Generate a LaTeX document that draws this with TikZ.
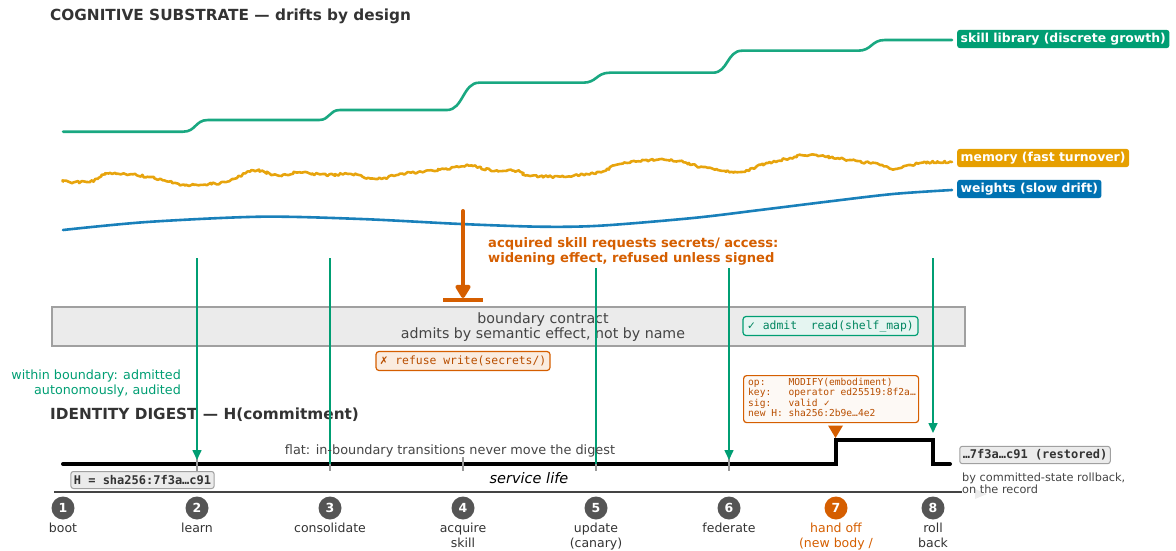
\documentclass[tikz,border=0pt]{standalone}
\usepackage{fontspec}
\setmainfont{DejaVu Sans}
\setmonofont{DejaVu Sans Mono}
\newfontfamily\symf{DejaVu Sans}
\usetikzlibrary{arrows.meta,decorations.pathmorphing}
\definecolor{cgreen}{HTML}{009E73}
\definecolor{cgreentxt}{HTML}{00855F}
\definecolor{corange}{HTML}{D55E00}
\definecolor{corangetxt}{HTML}{B84E00}
\definecolor{cyellow}{HTML}{E69F00}
\definecolor{cblue}{HTML}{0072B2}
\definecolor{txt}{HTML}{333333}
\definecolor{gtxt}{HTML}{444444}
\definecolor{boxgray}{HTML}{EBEBEB}
\definecolor{boxedge}{HTML}{A0A0A0}
\definecolor{evgray}{HTML}{555555}
\newcommand{\fsz}[1]{\fontsize{#1}{#1}\selectfont}
\tikzset{
  ttl/.style={font=\bfseries\fsz{15.3}, text=txt, inner sep=0, anchor=base west},
  tag/.style={font=\bfseries\fsz{12.4}, text=white, rounded corners=2.5pt, inner xsep=3.5pt, inner ysep=3pt, anchor=west},
  curve/.style={line width=2.6pt, line cap=round, line join=round},
  gline/.style={cgreen, line width=1.6pt},
  garrow/.style={gline, -{Triangle[length=10pt,width=9pt]}},
  tickmark/.style={draw=gray!80, line width=1.6pt},
  evc/.style={circle, fill=evgray, text=white, font=\bfseries\fsz{12.5}, minimum size=23pt, inner sep=0},
  evl/.style={font=\fsz{12.5}, text=txt, inner sep=0, anchor=base},
  codebox/.style={font=\ttfamily\fsz{11.4}, rounded corners=3pt, line width=1.2pt, inner xsep=3pt, minimum height=19pt},
  hashbox/.style={font=\ttfamily\bfseries\fsz{12}, draw=boxedge, fill=boxgray, rounded corners=2.5pt, line width=1pt, text=txt, inner xsep=3pt, minimum height=17pt},
  note/.style={inner sep=0, anchor=base},
}
\begin{document}
\begin{tikzpicture}[x=1pt,y=-1pt]
\useasboundingbox (0,0) rectangle (1176,551);

% titles
\node[ttl] (t1) at (50,21) {COGNITIVE SUBSTRATE — drifts by design};
\node[ttl] (t2) at (50,419) {IDENTITY DIGEST — H(commitment)};

% skill library
\draw[curve, cgreen, opacity=.9] (63,131.7) -- (183,131.7)
  .. controls (196,131.7) and (195,120) .. (208,120) -- (319,120)
  .. controls (330,120) and (329,110) .. (340,110) -- (447,110)
  .. controls (463,110) and (463,82.7) .. (479,82.7) -- (583,82.7)
  .. controls (597,82.7) and (596,72.7) .. (610,72.7) -- (713,72.7)
  .. controls (728,72.7) and (727,50.7) .. (742,50.7) -- (858,50.7)
  .. controls (872,50.7) and (871,40) .. (885,40) -- (952,40);

% memory
\pgfmathsetseed{12}
\draw[curve, cyellow, opacity=.95, decorate, decoration={random steps, segment length=2pt, amplitude=1.2pt}]
  plot[smooth, tension=0.5] coordinates {(63,181.7) (90,181.7) (110,173) (147,176.7) (179,184) (194,185) (226,182) (254,170.7) (279,175.7) (297,172.7) (326,175) (351,174) (376,179) (397,175) (411,172.7) (444,169) (469,165.7) (490,170) (519,171) (526,175) (554,176.7) (580,175) (600,172) (620,164) (650,160) (680,161) (700,167) (740,172) (760,165) (790,158) (810,155) (850,160) (880,165) (895,169) (920,163) (952,162)};

% weights
\draw[curve, cblue, opacity=.9] plot[smooth] coordinates {(63,230) (147,222) (261,216.7) (361,219) (461,224) (540,226.7) (600,225.7) (693,218) (760,210) (827,201.7) (893,194) (952,190)};

% curve tags
\node[tag, fill=cgreen] (lsk) at (957,39) {skill library (discrete growth)};
\node[tag, fill=cyellow] (lmem) at (957,158) {memory (fast turnover)};
\node[tag, fill=cblue] (lw) at (957,189) {weights (slow drift)};

% refused request arrow
\coordinate (atop) at (463,211);
\coordinate (abot) at (463,298);
\coordinate (barl) at (443,300);
\coordinate (barr) at (483,300);
\draw[corange, line width=4pt] (barl) -- (barr);
\draw[corange, line width=4pt, line cap=round, -{Triangle[length=15pt,width=17pt,round]}] (atop) -- (abot);
\node[note, anchor=base west, font=\bfseries\fsz{13.1}, text=corange] (ann1) at (488,247) {acquired skill requests secrets/ access:};
\node[note, anchor=base west, font=\bfseries\fsz{13.1}, text=corange] (ann2) at (488,262) {widening effect, refused unless signed};

% boundary contract
\node[draw=boxedge, fill=boxgray, line width=1.5pt, minimum width=913pt, minimum height=39pt, anchor=north west, inner sep=0] (bc) at (51,306) {};
\node[note, font=\fsz{14.2}, text=gtxt] (bc1) at (543,323) {boundary contract};
\node[note, font=\fsz{14.2}, text=gtxt] (bc2) at (543,338) {admits by semantic effect, not by name};

% admit / refuse boxes
\node[codebox, draw=cgreen, fill=cgreen!10, text=cgreentxt, minimum width=175pt] (admit) at (830.5,326) {{\symf\fsz{10.5}✓}~admit~~read(shelf\_map)};
\node[codebox, draw=corange, fill=corange!12, text=corangetxt, minimum width=174pt] (refuse) at (463,361) {{\symf\fsz{10.5}✗}~refuse~write(secrets/)};

% within boundary note
\node[note, anchor=base east, font=\fsz{12.7}, text=cgreen] (wb1) at (181,379) {within boundary: admitted};
\node[note, anchor=base east, font=\fsz{12.7}, text=cgreen] (wb2) at (181,394) {autonomously, audited};

% signature box
\node[draw=corange, fill=corange!4, line width=1.2pt, rounded corners=3pt, anchor=north west, minimum width=175pt, minimum height=47pt, inner sep=0] (sig) at (743,375) {};
\node[note, anchor=base west, font=\ttfamily\fsz{9.6}, text=corangetxt] (s1) at (748,385.5) {op:~~~~MODIFY(embodiment)};
\node[note, anchor=base west, font=\ttfamily\fsz{9.6}, text=corangetxt] (s2) at (748,395.8) {key:~~~operator ed25519:8f2a…};
\node[note, anchor=base west, font=\ttfamily\fsz{9.6}, text=corangetxt] (s3) at (748,406) {sig:~~~valid {\symf\fsz{8.5}✓}};
\node[note, anchor=base west, font=\ttfamily\fsz{9.6}, text=corangetxt] (s4) at (748,416.3) {new H: sha256:2b9e…4e2};

% digest line
\coordinate (d0) at (63,464);
\coordinate (d1) at (835.5,464);
\coordinate (d2) at (835.5,440);
\coordinate (d3) at (932.5,440);
\coordinate (d4) at (932.5,464);
\coordinate (d5) at (950,464);
\draw[line width=4pt, line cap=round, line join=miter] (d0) -- (d1) -- (d2) -- (d3) -- (d4) -- (d5);
\fill[corange] (828,425.5) -- (843,425.5) -- (835.5,438) -- cycle;

% ticks
\foreach \x in {197,330,463,596,729} {
  \draw[tickmark] (\x,457) -- (\x,471);
}

% green event arrows
\coordinate (g2a) at (197,258); \coordinate (g2b) at (197,460);
\coordinate (g3a) at (330,258); \coordinate (g3b) at (330,464);
\coordinate (g5a) at (596,268); \coordinate (g5b) at (596,464);
\coordinate (g6a) at (729,268); \coordinate (g6b) at (729,460);
\coordinate (g8a) at (933,258); \coordinate (g8b) at (933,433);
\draw[garrow] (g2a) -- (g2b);
\draw[gline] (g3a) -- (g3b);
\draw[gline] (g5a) -- (g5b);
\draw[garrow] (g6a) -- (g6b);
\draw[garrow] (g8a) -- (g8b);

% digest notes
\node[note, font=\fsz{12.85}, text=gtxt] (flat) at (450,454) {flat: in-boundary transitions never move the digest};
\node[note, font=\itshape\fsz{14.5}, text=black] (sl) at (529,483.5) {service life};
\node[hashbox] (hb) at (142.5,480) {H = sha256:7f3a…c91};
\node[hashbox] (rest) at (1035,455) {…7f3a…c91 (restored)};
\node[note, anchor=base west, font=\fsz{11.3}, text=gtxt] (rb1) at (962,481) {by committed-state rollback,};

% axis
\coordinate (ax0) at (54,492);
\coordinate (ax1) at (962,492);
\fill[gray!15] (975,489) -- (987,494) -- (975,499) -- cycle;
\draw[gtxt, line width=1.5pt] (ax0) -- (ax1);
\node[note, anchor=base west, font=\fsz{11.3}, text=gtxt] (rb2) at (962,493.5) {on the record};

% events
\node[evc] (e1) at (63,508) {1};
\node[evc] (e2) at (197,508) {2};
\node[evc] (e3) at (330,508) {3};
\node[evc] (e4) at (463,508) {4};
\node[evc] (e5) at (596,508) {5};
\node[evc] (e6) at (729,508) {6};
\node[evc, fill=corange] (e7) at (836,508) {7};
\node[evc] (e8) at (933,508) {8};

\node[evl] (l1) at (63,532) {boot};
\node[evl] (l2) at (197,532) {learn};
\node[evl] (l3) at (330,532) {consolidate};
\node[evl] (l4a) at (463,532) {acquire};
\node[evl] (l4b) at (463,547) {skill};
\node[evl] (l5a) at (596,532) {update};
\node[evl] (l5b) at (596,547) {(canary)};
\node[evl] (l6) at (729,532) {federate};
\node[evl, text=corange] (l7a) at (836,532) {hand off};
\node[evl, text=corange] (l7b) at (836,547) {(new body /};
\node[evl] (l8a) at (933,532) {roll};
\node[evl] (l8b) at (933,547) {back};
\end{tikzpicture}
\end{document}
